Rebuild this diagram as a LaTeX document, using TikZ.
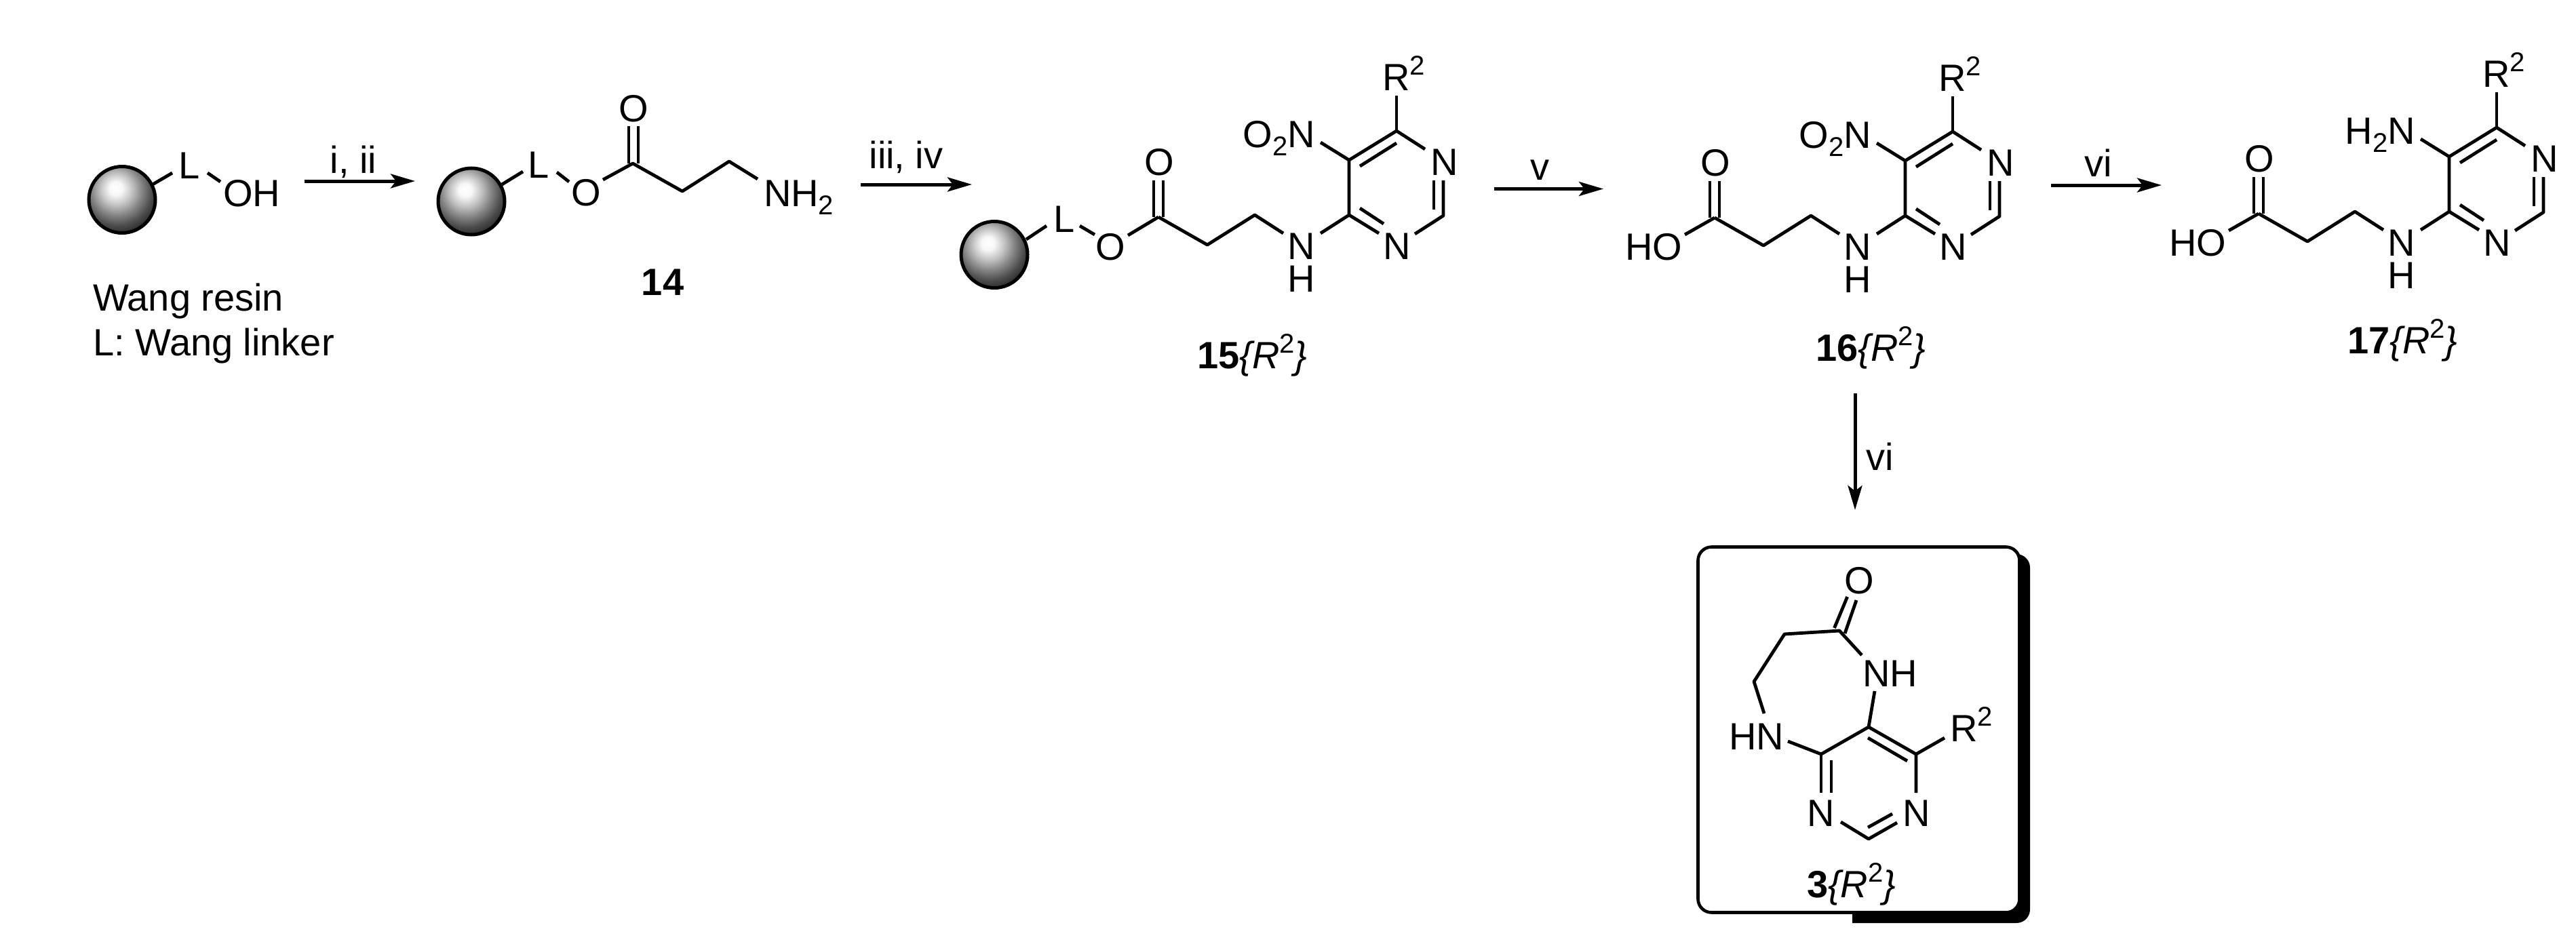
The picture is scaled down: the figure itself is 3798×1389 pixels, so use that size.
\documentclass[tikz,border=0pt]{standalone}
\usepackage{fontspec}
\setmainfont{Liberation Sans}
\usetikzlibrary{arrows.meta}
\pgfdeclareradialshading{beadshade}{\pgfpoint{-5bp}{9bp}}{%
  color(0bp)=(white);
  color(5bp)=(white!97!black);
  color(12bp)=(white!76!black);
  color(19bp)=(white!52!black);
  color(26bp)=(white!30!black);
  color(33bp)=(white!14!black);
  color(41bp)=(black);
  color(100bp)=(black)}
\newcommand{\sbs}{\raisebox{-12pt}{\fontsize{40}{40}\selectfont 2}}
\newcommand{\sps}{\raisebox{23pt}{\fontsize{40}{40}\selectfont\upshape 2}}
\newcommand{\cpd}[1]{\textbf{#1}\textit{\{R\sps\}}}
\newcommand{\pyrfrag}[4]{% prefix, dx, dy, amine text
\begin{scope}[shift={(#2,#3)}]
  \draw[bond] (2521,267) -- (2521,321);
  \draw[bond] (2535,267) -- (2535,321);
  \draw[bond] (2528,321) -- (2600,362) -- (2670,318) -- (2712,345);
  \draw[bond] (2767,345) -- (2809,318) -- (2809,237) -- (2879,194) -- (2921,221);
  \draw[bond] (2825,246) -- (2879,212);
  \draw[bond] (2879,194) -- (2879,142);
  \draw[bond] (2767,211) -- (2809,237);
  \draw[bond] (2948,267) -- (2948,319) -- (2906,346);
  \draw[bond] (2934,267) -- (2934,310);
  \draw[bond] (2809,318) -- (2853,345);
  \draw[bond] (2825,308) -- (2860,331);
  \node[atom,anchor=base] (#1O) at (2529,259) {O};
  \node[atom,anchor=base,align=center,font=\fontsize{56}{48}\selectfont] (#1N) at (2739,431) {N\\H};
  \node[atom,anchor=base] (#1Na) at (2950,259) {N};
  \node[atom,anchor=base] (#1Nb) at (2880,383) {N};
  \node[atom,anchor=base east] (#1am) at (2759,218) {#4};
  \node[atom,anchor=base west] (#1R) at (2858,134) {R\sps};
\end{scope}}
\newcommand{\acidend}[3]{% prefix, dx, dy
\begin{scope}[shift={(#2,#3)}]
  \draw[bond] (2484,346) -- (2528,321);
  \node[atom,anchor=base east] (#1HO) at (2480,383) {HO};
\end{scope}}
\tikzset{
  bond/.style={line width=4.8pt,line join=round},
  atom/.style={inner sep=0pt,outer sep=0pt,text=black,font=\fontsize{56}{60}\selectfont},
  rxn/.style={line width=5pt,-{Stealth[length=36pt,width=21pt,inset=8pt]}},
  bead/.style={circle,draw=black,line width=5pt,minimum size=98pt,inner sep=0pt,shade,shading=beadshade},
}
\begin{document}
\begin{tikzpicture}[x=1pt,y=-1pt]
\useasboundingbox (0,0) rectangle (3798,1389);
% Wang resin
\node[bead] (b1) at (180,294.5) {};
\draw[bond] (225,272) -- (254,255);
\node[atom,anchor=base west] (l1) at (263,263) {L};
\draw[bond] (306,255) -- (325,268);
\node[atom,anchor=base west] (oh1) at (329,304) {OH};
\node[atom,anchor=base west] (wr) at (137,458) {Wang resin};
\node[atom,anchor=base west] (wl) at (137,524) {L: Wang linker};
% arrows
\coordinate (a1s) at (449,267); \coordinate (a1e) at (612,267);
\draw[rxn] (a1s) -- (a1e);
\node[atom,anchor=base] (t1) at (521,255) {i, ii};
\coordinate (a2s) at (1269,272); \coordinate (a2e) at (1433,272);
\draw[rxn] (a2s) -- (a2e);
\node[atom,anchor=base] (t2) at (1336,248) {iii, iv};
\coordinate (a3s) at (2203,278.5); \coordinate (a3e) at (2364,278.5);
\draw[rxn] (a3s) -- (a3e);
\node[atom,anchor=base] (t3) at (2270,265) {v};
\coordinate (a4s) at (3024,273); \coordinate (a4e) at (3187,273);
\draw[rxn] (a4s) -- (a4e);
\node[atom,anchor=base] (t4) at (3094,260) {vi};
\coordinate (a5s) at (2735,580); \coordinate (a5e) at (2735,752);
\draw[rxn] (a5s) -- (a5e);
\node[atom,anchor=base west] (t5) at (2751,693) {vi};
% compound 14
\node[bead] (b2) at (695,297) {};
\draw[bond] (740,272) -- (771,253);
\node[atom,anchor=base west] (l2) at (778,262) {L};
\draw[bond] (821,254) -- (839,268);
\node[atom,anchor=base] (o2) at (864,303) {O};
\draw[bond] (889,265) -- (933,241) -- (1006,282) -- (1075,238) -- (1117,264);
\draw[bond] (927,186) -- (927,241);
\draw[bond] (941,186) -- (941,241);
\node[atom,anchor=base] (o2b) at (934,179) {O};
\node[atom,anchor=base west] (nh2) at (1126,304) {NH\sbs};
\node[atom,anchor=base,font=\fontsize{56}{60}\selectfont\bfseries] (c14) at (977,435) {14};
% compound 15
\node[bead] (b3) at (1466,375.5) {};
\draw[bond] (1513,353) -- (1543,333);
\node[atom,anchor=base west] (l3) at (1553,342) {L};
\draw[bond] (1592,333) -- (1614,346);
\node[atom,anchor=base] (o3) at (1637,383) {O};
\draw[bond] (1663,347) -- (1708,320);
\pyrfrag{p}{-820}{-1}{O\sbs N}
\node[atom,anchor=base west] (c15) at (1765,543) {\cpd{15}};
% compounds 16 and 17
\pyrfrag{q}{0}{0}{O\sbs N}
\acidend{q}{0}{0}
\node[atom,anchor=base west] (c16) at (2677,532) {\cpd{16}};
\pyrfrag{r}{802}{-6}{H\sbs N}
\acidend{r}{802}{-6}
\node[atom,anchor=base west] (c17) at (3461,521) {\cpd{17}};
% boxed product
\fill[black,rounded corners=20pt] (2731,1361) -- (2993,1361) -- (2993,817) -- (2731,817);
\node[draw=black,fill=white,line width=4.6pt,rounded corners=20pt,minimum width=474pt,minimum height=539pt,inner sep=0pt] (box) at (2740.5,1076) {};
\draw[bond] (2745,966) -- (2712,930) -- (2631,935) -- (2586,1005) -- (2601,1052);
\draw[bond] (2704.5,926) -- (2723.6,880);
\draw[bond] (2720,934) -- (2737,885);
\draw[bond] (2636,1093) -- (2685,1112) -- (2755,1072) -- (2825,1112) -- (2825,1169);
\draw[bond] (2764,1019) -- (2755,1072);
\draw[bond] (2754,1088) -- (2812,1122);
\draw[bond] (2825,1112) -- (2867,1088);
\draw[bond] (2685,1112) -- (2685,1169);
\draw[bond] (2700,1121) -- (2700,1169);
\draw[bond] (2714,1212) -- (2755,1237) -- (2797,1213);
\draw[bond] (2754,1220) -- (2790,1200);
\node[atom,anchor=base] (so) at (2741,875) {O};
\node[atom,anchor=base west] (snh) at (2746,1012) {NH};
\node[atom,anchor=base west] (shn) at (2549,1105) {HN};
\node[atom,anchor=base] (sna) at (2685,1218) {N};
\node[atom,anchor=base] (snb) at (2825.5,1218) {N};
\node[atom,anchor=base west] (sr) at (2875,1093) {R\sps};
\node[atom,anchor=base west] (c3) at (2664,1323) {\cpd{3}};
\end{tikzpicture}
\end{document}
